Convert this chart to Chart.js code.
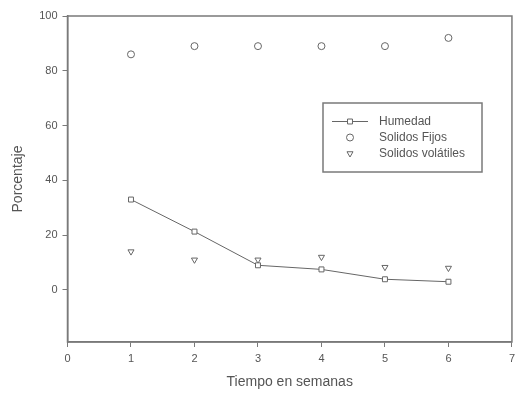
<!DOCTYPE html>
<html>
<head>
<meta charset="utf-8">
<script src="https://cdn.jsdelivr.net/npm/chart.js@4.4.1/dist/chart.umd.min.js"></script>
<style>
  html, body { margin: 0; padding: 0; background: #fff; }
  #wrap { width: 520px; height: 394px; position: relative; }
</style>
</head>
<body>
<div id="wrap"><canvas id="c" width="520" height="394"></canvas></div>
<script>
// Semanas de muestreo y composición (%) de la muestra
const semanas = [1, 2, 3, 4, 5, 6];
const humedad = [33, 21.3, 9, 7.5, 3.9, 3];
const solidosFijos = [86, 89, 89, 89, 89, 92];
const solidosVolatiles = [14, 11, 11, 12, 8.3, 8];
const yTicks = [0, 20, 40, 60, 80, 100];
const xTicks = [0, 1, 2, 3, 4, 5, 6, 7];

const ink = '#555';
const frame = '#7a7a7a';
const font = "'Liberation Sans', Arial, sans-serif";

const pts = ys => semanas.map((x, i) => ({ x: x, y: ys[i] }));

// Marco completo alrededor del área de trazado
const framePlugin = {
  id: 'frame',
  afterDraw(chart) {
    const { ctx, chartArea: a } = chart;
    ctx.save();
    ctx.strokeStyle = frame;
    ctx.lineWidth = 1.5;
    ctx.strokeRect(a.left, a.top, a.right - a.left, a.bottom - a.top);
    ctx.restore();
  }
};

// Leyenda con recuadro dentro del área de trazado
const boxLegend = {
  id: 'boxLegend',
  afterDraw(chart) {
    const { ctx } = chart;
    const bx = 323, by = 103, bw = 159, bh = 69;
    ctx.save();
    ctx.strokeStyle = frame;
    ctx.lineWidth = 1.5;
    ctx.strokeRect(bx, by, bw, bh);
    ctx.font = '12px ' + font;
    ctx.textBaseline = 'middle';
    chart.data.datasets.forEach((ds, i) => {
      const y = 121.5 + i * 16;
      const cx = 350;
      ctx.strokeStyle = ds.borderColor;
      ctx.lineWidth = 1;
      if (ds.showLine) {
        ctx.beginPath();
        ctx.moveTo(332, y);
        ctx.lineTo(368, y);
        ctx.stroke();
      }
      ctx.fillStyle = ds.backgroundColor;
      ctx.lineWidth = ds.borderWidth;
      Chart.helpers.drawPoint(ctx, {
        pointStyle: ds.pointStyle,
        rotation: ds.rotation || 0,
        radius: ds.pointRadius,
        borderWidth: ds.borderWidth
      }, cx, y);
      ctx.fillStyle = ink;
      ctx.fillText(ds.label, 379, y);
    });
    ctx.restore();
  }
};

new Chart(document.getElementById('c'), {
  type: 'scatter',
  data: {
    datasets: [
      {
        label: 'Humedad',
        data: pts(humedad),
        showLine: true,
        borderColor: '#666',
        backgroundColor: '#fff',
        borderWidth: 1,
        pointStyle: 'rect',
        pointRadius: 3.5
      },
      {
        label: 'Solidos Fijos',
        data: pts(solidosFijos),
        showLine: false,
        borderColor: '#666',
        backgroundColor: '#fff',
        borderWidth: 1,
        pointStyle: 'circle',
        pointRadius: 3.5
      },
      {
        label: 'Solidos volátiles',
        data: pts(solidosVolatiles),
        showLine: false,
        borderColor: '#666',
        backgroundColor: '#fff',
        borderWidth: 1,
        pointStyle: 'triangle',
        rotation: 180,
        pointRadius: 3.5
      }
    ]
  },
  options: {
    responsive: false,
    animation: false,
    layout: { padding: { top: 16, right: 2, left: 0, bottom: 0 } },
    plugins: { legend: { display: false }, tooltip: { enabled: false } },
    scales: {
      x: {
        type: 'linear',
        min: 0,
        max: 7,
        afterBuildTicks: s => { s.ticks = xTicks.map(v => ({ value: v })); },
        afterFit: s => { s.height = 52; },
        grid: { drawOnChartArea: false, drawTicks: true, tickLength: 5, color: frame, lineWidth: 1 },
        border: { display: true, color: frame, width: 1.5 },
        ticks: { color: ink, font: { family: font, size: 11 }, padding: 5, maxRotation: 0 },
        title: { display: true, text: 'Tiempo en semanas', color: ink, font: { family: font, size: 14 }, padding: { top: 0, bottom: 3 } }
      },
      y: {
        type: 'linear',
        min: -19,
        max: 100,
        afterBuildTicks: s => { s.ticks = yTicks.map(v => ({ value: v })); },
        afterFit: s => { s.width = 67.5; },
        grid: { drawOnChartArea: false, drawTicks: true, tickLength: 5, color: frame, lineWidth: 1 },
        border: { display: true, color: frame, width: 1.5 },
        ticks: { color: ink, font: { family: font, size: 11 }, padding: 5 },
        title: { display: true, text: 'Porcentaje', color: ink, font: { family: font, size: 14 }, padding: { top: 10, bottom: 0 } }
      }
    }
  },
  plugins: [framePlugin, boxLegend]
});
</script>
</body>
</html>
